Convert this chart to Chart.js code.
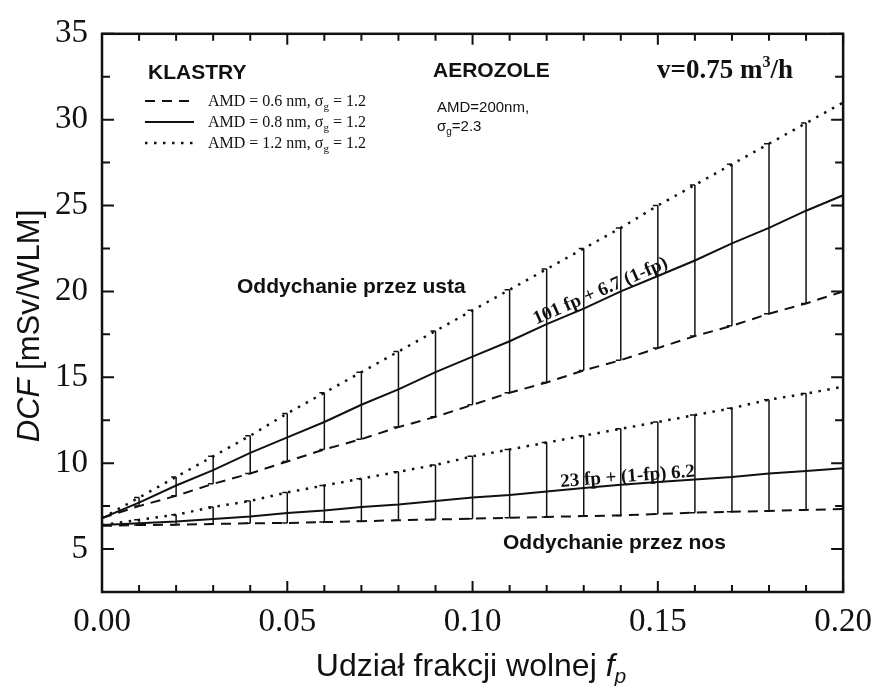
<!DOCTYPE html>
<html>
<head>
<meta charset="utf-8">
<script src="https://cdn.jsdelivr.net/npm/chart.js@4.4.0/dist/chart.umd.min.js"></script>
<style>
  html, body { margin: 0; padding: 0; background: #fff; }
  canvas { display: block; }
</style>
</head>
<body>
<canvas id="dcfChart" width="883" height="686"></canvas>
<script>
// udzial frakcji wolnej
const fp = [0.00, 0.01, 0.02, 0.03, 0.04, 0.05, 0.06, 0.07, 0.08, 0.09, 0.10,
            0.11, 0.12, 0.13, 0.14, 0.15, 0.16, 0.17, 0.18, 0.19, 0.20];

// oddychanie przez usta
const mouth06 = [6.8, 7.5, 8.1, 8.8, 9.4, 10.1, 10.8, 11.4, 12.1, 12.7, 13.4, 14.1, 14.7, 15.4, 16.0, 16.7, 17.4, 18.0, 18.7, 19.3, 20.0];
const mouth08 = [6.8, 7.7, 8.7, 9.6, 10.6, 11.5, 12.4, 13.4, 14.3, 15.3, 16.2, 17.1, 18.1, 19.0, 20.0, 20.9, 21.8, 22.8, 23.7, 24.7, 25.6];
const mouth12 = [6.8, 8.0, 9.2, 10.4, 11.6, 12.9, 14.1, 15.3, 16.5, 17.7, 18.9, 20.1, 21.3, 22.5, 23.7, 25.0, 26.2, 27.4, 28.6, 29.8, 31.0];

// oddychanie przez nos
const nose06 = [6.35, 6.4, 6.42, 6.46, 6.5, 6.52, 6.57, 6.62, 6.68, 6.72, 6.77, 6.82, 6.87, 6.92, 6.96, 7.04, 7.12, 7.17, 7.22, 7.28, 7.33];
const nose08 = [6.4, 6.5, 6.6, 6.75, 6.9, 7.1, 7.25, 7.45, 7.6, 7.8, 8.0, 8.15, 8.35, 8.55, 8.75, 8.9, 9.05, 9.2, 9.4, 9.55, 9.7];
const nose12 = [6.4, 6.7, 7.0, 7.45, 7.8, 8.3, 8.7, 9.1, 9.5, 9.9, 10.4, 10.8, 11.2, 11.6, 12.0, 12.4, 12.8, 13.2, 13.7, 14.05, 14.45];

// where the range bars stand
const barFp = [0.01, 0.02, 0.03, 0.04, 0.05, 0.06, 0.07, 0.08, 0.09, 0.10,
               0.11, 0.12, 0.13, 0.14, 0.15, 0.16, 0.17, 0.18, 0.19];

const xTickValues = [0.00, 0.05, 0.10, 0.15, 0.20];
const xMinorTicks = [0.01, 0.02, 0.03, 0.04, 0.06, 0.07, 0.08, 0.09, 0.11, 0.12, 0.13, 0.14, 0.16, 0.17, 0.18, 0.19];
const yTickValues = [5, 10, 15, 20, 25, 30, 35];
const yMinorTicks = [7.5, 12.5, 17.5, 22.5, 27.5, 32.5];

const INK = "#111";
const SERIF = "'Liberation Serif', 'Times New Roman', serif";
const SANS = "'Liberation Sans', Arial, sans-serif";
const DASH = [10, 7];
const DOT = [2.5, 6.5];

const toPoints = (vals) => fp.map((x, i) => ({ x: x, y: vals[i] }));

// vertical bars from the 0.6 nm curve up to the 1.2 nm curve
const rangeBars = (low, high) => {
  const pts = [];
  fp.forEach((x, i) => {
    if (!barFp.includes(x)) return;
    pts.push({ x: x, y: low[i] }, { x: x, y: high[i] }, { x: x, y: null });
  });
  return pts;
};

const lineSet = (vals, dash, width) => ({
  data: toPoints(vals),
  borderColor: INK,
  borderWidth: width,
  borderDash: dash,
  pointRadius: 0,
  fill: false,
  tension: 0,
});

const barSet = (low, high) => ({
  data: rangeBars(low, high),
  borderColor: INK,
  borderWidth: 1.5,
  spanGaps: false,
  pointStyle: "dash",
  rotation: 180,
  pointRadius: 5,
  pointBorderWidth: 1.5,
  pointBorderColor: INK,
  pointBackgroundColor: INK,
  fill: false,
});

// draws a row of text pieces (for sub/superscripts)
function drawRuns(ctx, x, y, runs) {
  ctx.textBaseline = "alphabetic";
  ctx.textAlign = "left";
  runs.forEach((r) => {
    ctx.font = r.font;
    ctx.fillText(r.t, x, y + (r.dy || 0));
    x += ctx.measureText(r.t).width;
  });
  return x;
}

function runsWidth(ctx, runs) {
  let w = 0;
  runs.forEach((r) => { ctx.font = r.font; w += ctx.measureText(r.t).width; });
  return w;
}

const framePlugin = {
  id: "frame",
  afterDraw(chart) {
    const { ctx, chartArea: a, scales } = chart;
    const x = scales.x, y = scales.y;
    ctx.save();
    ctx.strokeStyle = INK;
    ctx.lineWidth = 2.5;
    ctx.setLineDash([]);
    ctx.strokeRect(a.left, a.top, a.right - a.left, a.bottom - a.top);
    ctx.lineWidth = 2;
    ctx.beginPath();
    const xt = (v, len) => {
      const px = x.getPixelForValue(v);
      ctx.moveTo(px, a.bottom); ctx.lineTo(px, a.bottom - len);
      ctx.moveTo(px, a.top); ctx.lineTo(px, a.top + len);
    };
    const yt = (v, len) => {
      const py = y.getPixelForValue(v);
      ctx.moveTo(a.left, py); ctx.lineTo(a.left + len, py);
      ctx.moveTo(a.right, py); ctx.lineTo(a.right - len, py);
    };
    xTickValues.forEach((v) => xt(v, 11));
    xMinorTicks.forEach((v) => xt(v, 7));
    yTickValues.forEach((v) => yt(v, 12));
    yMinorTicks.forEach((v) => yt(v, 8));
    ctx.stroke();
    ctx.restore();
  },
};

const textPlugin = {
  id: "texts",
  afterDraw(chart) {
    const { ctx, scales } = chart;
    const x = scales.x, y = scales.y;
    ctx.save();
    ctx.fillStyle = INK;
    ctx.strokeStyle = INK;

    // legend block
    ctx.font = "bold 21px " + SANS;
    ctx.fillText("KLASTRY", 148, 79);
    ctx.fillText("AEROZOLE", 433, 77);

    const legend = [
      { dash: DASH, w: 2, label: "0.6" },
      { dash: [], w: 2, label: "0.8" },
      { dash: DOT, w: 2.5, label: "1.2" },
    ];
    legend.forEach((item, i) => {
      const ly = 101 + i * 21;
      ctx.lineWidth = item.w;
      ctx.setLineDash(item.dash);
      ctx.beginPath();
      ctx.moveTo(145, ly);
      ctx.lineTo(194, ly);
      ctx.stroke();
      ctx.setLineDash([]);
      drawRuns(ctx, 208, ly + 5, [
        { t: "AMD = " + item.label + " nm, σ", font: "16px " + SERIF },
        { t: "g", font: "11px " + SERIF, dy: 4 },
        { t: " = 1.2", font: "16px " + SERIF },
      ]);
    });

    drawRuns(ctx, 437, 112, [{ t: "AMD=200nm,", font: "15px " + SANS }]);
    drawRuns(ctx, 437, 131, [
      { t: "σ", font: "15px " + SANS },
      { t: "g", font: "10px " + SANS, dy: 4 },
      { t: "=2.3", font: "15px " + SANS },
    ]);

    drawRuns(ctx, 657, 78, [
      { t: "v=0.75 m", font: "bold 27px " + SERIF },
      { t: "3", font: "bold 16px " + SERIF, dy: -11 },
      { t: "/h", font: "bold 27px " + SERIF },
    ]);

    ctx.font = "bold 21px " + SANS;
    ctx.fillText("Oddychanie przez usta", 237, 293);
    ctx.fillText("Oddychanie przez nos", 503, 549);

    // labels laid along the middle curves
    const alongLine = (vals, at, text, off) => {
      const p0 = { x: x.getPixelForValue(fp[0]), y: y.getPixelForValue(vals[0]) };
      const p1 = { x: x.getPixelForValue(fp[fp.length - 1]), y: y.getPixelForValue(vals[vals.length - 1]) };
      const ang = Math.atan2(p1.y - p0.y, p1.x - p0.x);
      const px = x.getPixelForValue(at);
      const py = p0.y + (px - p0.x) * Math.tan(ang);
      ctx.save();
      ctx.translate(px, py);
      ctx.rotate(ang);
      ctx.font = "bold 19px " + SERIF;
      ctx.textAlign = "center";
      ctx.textBaseline = "alphabetic";
      ctx.fillText(text, 0, -off);
      ctx.restore();
    };
    alongLine(mouth08, 0.1355, "101 fp + 6.7 (1-fp)", 4);
    alongLine(nose08, 0.142, "23 fp + (1-fp) 6.2", 3);

    // axis titles
    const yRuns = [
      { t: "DCF", font: "italic 31px " + SANS },
      { t: " [mSv/WLM]", font: "31px " + SANS },
    ];
    ctx.save();
    ctx.translate(39, 326);
    ctx.rotate(-Math.PI / 2);
    drawRuns(ctx, -runsWidth(ctx, yRuns) / 2, 0, yRuns);
    ctx.restore();

    const xRuns = [
      { t: "Udział frakcji wolnej ", font: "32px " + SANS },
      { t: "f", font: "italic 32px " + SANS },
      { t: "p", font: "italic 21px " + SANS, dy: 7 },
    ];
    drawRuns(ctx, 471 - runsWidth(ctx, xRuns) / 2, 676, xRuns);

    ctx.restore();
  },
};

new Chart(document.getElementById("dcfChart"), {
  type: "line",
  data: {
    datasets: [
      lineSet(mouth08, [], 2),
      lineSet(mouth06, DASH, 2),
      lineSet(mouth12, DOT, 2.5),
      lineSet(nose08, [], 2),
      lineSet(nose06, DASH, 2),
      lineSet(nose12, DOT, 2.5),
      barSet(mouth06, mouth12),
      barSet(nose06, nose12),
    ],
  },
  options: {
    responsive: false,
    animation: false,
    layout: { padding: { top: 26, right: 35, left: 0, bottom: 0 } },
    plugins: {
      legend: { display: false },
      tooltip: { enabled: false },
    },
    scales: {
      x: {
        type: "linear",
        min: 0,
        max: 0.2,
        grid: { display: false, drawTicks: false },
        border: { display: false },
        afterBuildTicks: (scale) => { scale.ticks = xTickValues.map((v) => ({ value: v })); },
        afterFit: (scale) => { scale.height = 94; },
        ticks: {
          padding: 11,
          color: INK,
          font: { family: SERIF, size: 33 },
          maxRotation: 0,
          callback: (v) => Number(v).toFixed(2),
        },
      },
      y: {
        min: 2.5,
        max: 35,
        grid: { display: false, drawTicks: false },
        border: { display: false },
        afterBuildTicks: (scale) => { scale.ticks = yTickValues.map((v) => ({ value: v })); },
        afterFit: (scale) => { scale.width = 102; },
        ticks: {
          padding: 14,
          color: INK,
          font: { family: SERIF, size: 33 },
          callback: (v) => String(v),
        },
      },
    },
  },
  plugins: [framePlugin, textPlugin],
});
</script>
</body>
</html>
